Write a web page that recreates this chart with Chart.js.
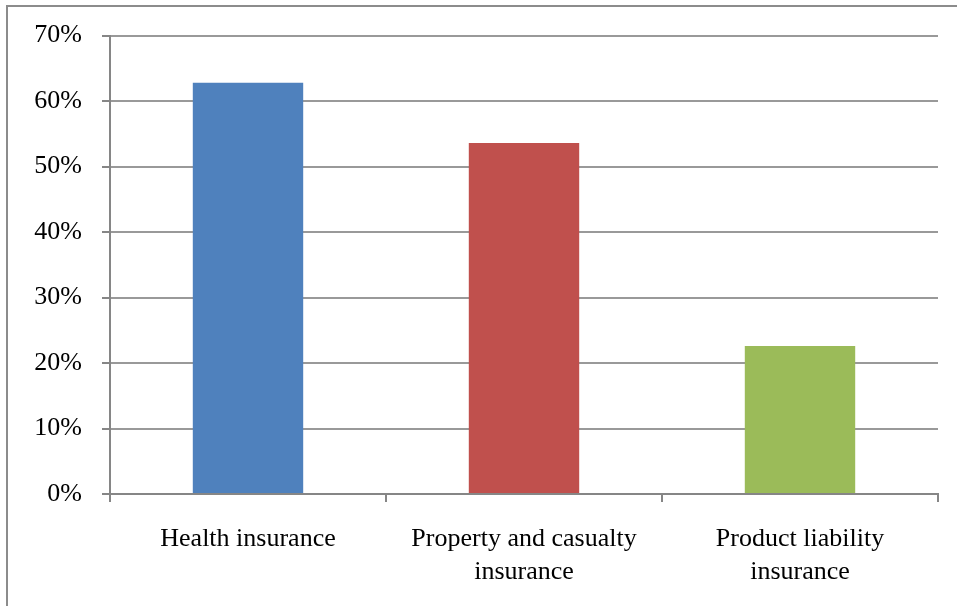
<!DOCTYPE html>
<html>
<head>
<meta charset="utf-8">
<script src="https://cdn.jsdelivr.net/npm/chart.js@4.4.1/dist/chart.umd.min.js"></script>
<style>
  html, body { margin: 0; padding: 0; background: #fff; }
  #wrap { width: 957px; height: 606px; position: relative; }
</style>
</head>
<body>
<div id="wrap"><canvas id="myChart" width="957" height="606"></canvas></div>
<script>
var categories = [
  'Health insurance',
  ['Property and casualty', 'insurance'],
  ['Product liability', 'insurance']
];
var shares = [62.8, 53.6, 22.6];
var barColors = ['#4F81BD', '#C0504D', '#9BBB59'];
var yTicks = { min: 0, max: 70, step: 10 };

// grey frame around the whole chart, cut off at right and bottom
var frame = {
  id: 'frame',
  beforeDraw: function(chart) {
    var c = chart.ctx;
    c.save();
    c.strokeStyle = '#8c8c8c';
    c.lineWidth = 2;
    c.strokeRect(7, 6, 980, 640);
    c.restore();
  }
};

var ctx = document.getElementById('myChart');

var barGraph = new Chart(ctx, {
  type: 'bar',
  data: {
    labels: categories,
    datasets: [{
      data: shares,
      backgroundColor: barColors,
      borderWidth: 0,
      barPercentage: 1,
      categoryPercentage: 0.4
    }]
  },
  options: {
    responsive: false,
    animation: false,
    layout: { padding: { left: 0, top: 34, right: 19, bottom: 0 } },
    plugins: {
      legend: { display: false },
      tooltip: { enabled: false }
    },
    scales: {
      x: {
        afterFit: function(scale) { scale.height = 112; },
        grid: {
          offset: true,
          drawOnChartArea: false,
          drawTicks: true,
          tickLength: 8,
          color: '#868686',
          lineWidth: 2
        },
        border: { color: '#868686', width: 2 },
        ticks: {
          color: '#000',
          padding: 21,
          maxRotation: 0,
          font: { family: 'Liberation Serif', size: 26, lineHeight: 1.25 }
        }
      },
      y: {
        min: yTicks.min,
        max: yTicks.max,
        afterFit: function(scale) { scale.width = 110; },
        grid: {
          color: '#999',
          lineWidth: 2,
          tickLength: 8,
          tickColor: '#868686'
        },
        border: { color: '#868686', width: 2 },
        ticks: {
          stepSize: yTicks.step,
          color: '#000',
          padding: 20,
          font: { family: 'Liberation Serif', size: 26 },
          callback: function(v) { return v + '%'; }
        }
      }
    }
  },
  plugins: [frame]
});
</script>
</body>
</html>
